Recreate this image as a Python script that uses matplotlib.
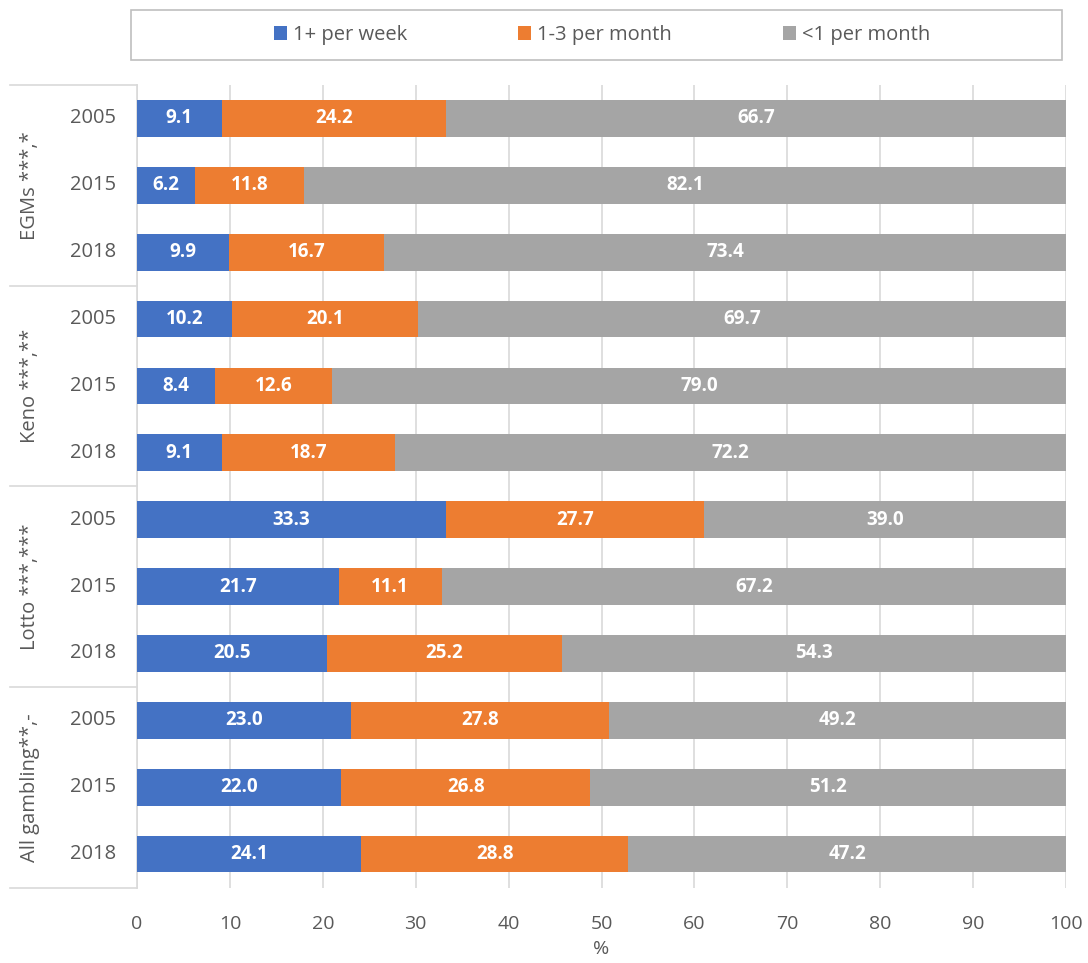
import matplotlib.pyplot as plt
from matplotlib.patches import Rectangle
import numpy as np

plt.rcParams['font.family'] = ['Open Sans', 'DejaVu Sans']

groups = ["EGMs ***,*", "Keno ***,**", "Lotto ***,***", "All gambling**,-"]
years = ["2005", "2015", "2018"]

series_names = ["1+ per week", "1-3 per month", "<1 per month"]
weekly = [9.1, 6.2, 9.9, 10.2, 8.4, 9.1, 33.3, 21.7, 20.5, 23.0, 22.0, 24.1]
monthly = [24.2, 11.8, 16.7, 20.1, 12.6, 18.7, 27.7, 11.1, 25.2, 27.8, 26.8, 28.8]
rarely = [66.7, 82.1, 73.4, 69.7, 79.0, 72.2, 39.0, 67.2, 54.3, 49.2, 51.2, 47.2]
colors = ["#4472C4", "#ED7D31", "#A5A5A5"]

txt = "#595959"
line_col = "#D9D9D9"

fig = plt.figure(figsize=(10.88, 9.63), dpi=100)
ax = fig.add_axes([137 / 1088, 1 - 887.5 / 963, 929 / 1088, 802.5 / 963])

y = np.arange(len(weekly))
left = np.zeros(len(weekly))
for vals, name, col in zip([weekly, monthly, rarely], series_names, colors):
    bars = ax.barh(y, vals, left=left, height=0.55, color=col, label=name, zorder=3)
    ax.bar_label(bars, fmt="%.1f", label_type="center", color="white",
                 fontsize=13.5, fontweight="bold")
    left += np.array(vals)

ax.set_xlim(0, 100)
ax.set_ylim(len(weekly) - 0.5, -0.5)
ax.set_xticks(np.arange(0, 101, 10))
ax.tick_params(axis="x", length=0, colors=txt, labelsize=14, pad=20)
ax.set_yticks([])
ax.grid(axis="x", color=line_col, linewidth=1.2, zorder=0)
for s in ["top", "right", "bottom"]:
    ax.spines[s].set_visible(False)
ax.spines["left"].set_color(line_col)
ax.spines["left"].set_linewidth(1.2)
ax.set_xlabel("%", color=txt, fontsize=14, labelpad=5)

# year labels and group labels on the left
for i in range(len(weekly)):
    ax.text(-0.023, i, years[i % 3], transform=ax.get_yaxis_transform(),
            ha="right", va="center", fontsize=14.5, color=txt)
for g, name in enumerate(groups):
    ax.text(-0.115, 3 * g + 1, name, transform=ax.get_yaxis_transform(),
            ha="center", va="center", rotation=90, fontsize=14.5, color=txt)
for b in np.arange(-0.5, len(weekly), 3):
    ax.plot([-0.137, 0], [b, b], transform=ax.get_yaxis_transform(),
            color=line_col, linewidth=1.2, clip_on=False)

# legend box on top
fig.patches.append(Rectangle((131 / 1088, 1 - 60 / 963), 931 / 1088, 50 / 963,
                             transform=fig.transFigure, fill=False,
                             edgecolor="#BFBFBF", linewidth=1.2))
fig.legend(loc="center", bbox_to_anchor=(602 / 1088, 1 - 35 / 963), ncol=3,
           frameon=False, fontsize=14.5, labelcolor=txt, handlelength=0.65,
           handleheight=0.65, handletextpad=0.3, columnspacing=5.5)

fig.savefig("out.png", dpi=100)
